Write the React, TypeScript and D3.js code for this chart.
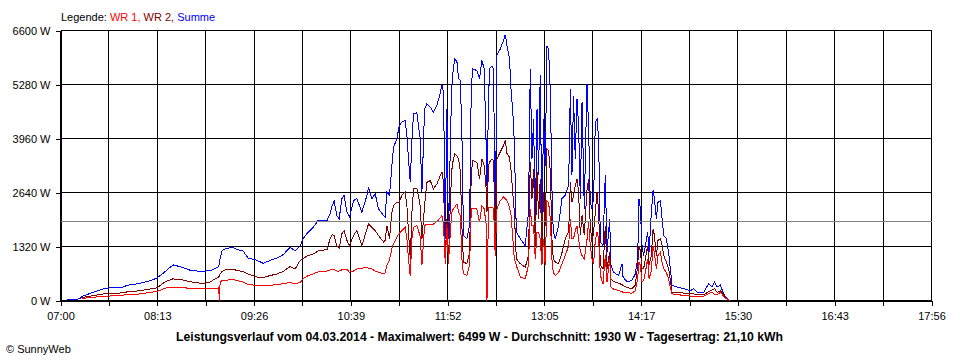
import React, { useRef, useEffect } from 'react';
import * as d3 from 'd3';

// minutes of day (07:00 = 420)
const times = [
  424.9, 434.7, 436.2, 444.5, 452.0, 457.3, 467.1, 470.1, 479.9, 487.4,
  492.7, 497.2, 500.3, 504.8, 508.5, 512.3, 517.6, 522.9, 528.9, 532.7,
  536.4, 539.1, 539.7, 540.2, 541.7, 545.5, 550.0, 553.8, 557.5, 561.3,
  568.1, 572.6, 577.9, 583.2, 587.7, 592.9, 596.7, 600.5, 602.7, 606.5,
  610.3, 614.1, 620.8, 623.1, 624.6, 626.1, 628.1, 629.9, 631.9, 633.6,
  635.7, 637.6, 640.7, 643.2, 647.0, 650.8, 652.0, 654.5, 657.0, 659.5,
  663.3, 664.5, 665.8, 667.8, 669.6, 670.8, 673.4, 675.1, 677.1, 679.6,
  680.9, 682.1, 683.4, 684.7, 685.9, 688.4, 689.6, 690.9, 692.2, 694.2,
  696.0, 698.5, 700.9, 703.5, 705.5, 707.3, 708.5, 709.8, 711.0, 712.2,
  713.9, 715.0, 716.9, 718.6, 719.8, 721.1, 722.3, 723.5, 726.1, 728.1,
  729.4, 730.6, 733.6, 735.6, 737.4, 739.1, 740.7, 741.2, 742.4, 743.1,
  745.0, 746.2, 747.4, 748.7, 751.2, 753.7, 755.0, 756.3, 758.2, 759.3,
  760.8, 761.8, 763.3, 766.3, 770.0, 772.5, 773.8, 775.1, 776.3, 777.6,
  778.9, 780.1, 781.3, 782.6, 783.8, 785.1, 786.4, 787.6, 788.9, 790.2,
  791.1, 792.7, 795.1, 797.7, 800.2, 802.7, 804.0, 805.2, 806.4, 807.7,
  809.0, 810.2, 811.5, 812.8, 814.5, 816.5, 817.7, 819.0, 820.3, 821.5,
  822.8, 824.1, 825.3, 826.6, 828.6, 830.3, 831.6, 833.6, 834.6, 836.6,
  840.4, 842.9, 843.7, 846.7, 850.4, 852.9, 854.7, 855.7, 856.7, 858.0,
  859.2, 860.5, 862.2, 863.3, 865.0, 866.3, 867.3, 868.8, 870.0, 871.8,
  873.1, 874.3, 876.3, 878.0, 879.3, 880.6, 884.4, 889.3, 894.4, 896.9,
  899.4, 904.4, 908.2, 910.7, 912.7, 914.5, 917.0, 919.0, 920.8, 923.2, 924.5
];

const summe = [
  20, 40, 100, 200, 280, 310, 330, 370, 420, 480,
  550, 660, 750, 870, 840, 800, 740, 720, 720, 730,
  780, 830, 930, 1030, 1220, 1280, 1290, 1240, 1210, 1040,
  980, 910, 980, 1040, 1120, 1300, 1210, 1340, 1510, 1670,
  1790, 1960, 1960, 2120, 2320, 2430, 2080, 2000, 2490, 2570,
  2160, 2040, 2440, 2490, 2160, 2570, 2770, 2490, 2610, 2240,
  2080, 2040, 2650, 2570, 3300, 3750, 3950, 4280, 4360, 4400,
  4030, 3460, 2890, 3950, 4560, 4590, 4280, 3960, 2650, 4690,
  4810, 4730, 4600, 4770, 5010, 5260, 5090, 1510, 4690, 1510,
  4280, 5420, 5910, 5830, 5420, 5380, 4110, 1590, 1510, 1830,
  5260, 5660, 5620, 5420, 5870, 5660, 3670, 2810, 4890, 5660,
  5740, 5660, 1510, 5990, 6150, 6360, 6499, 6230, 5910, 5170,
  4520, 3870, 1670, 1510, 1340, 2160, 5660, 3460, 4440, 1830,
  4690, 3060, 5500, 1830, 4440, 3300, 6230, 6150, 5090, 2650,
  1710, 1510, 1830, 2490, 2570, 2810, 5170, 3060, 5010, 3460,
  4930, 4280, 2490, 4850, 2240, 5300, 4280, 2400, 2240, 2490,
  4360, 4440, 3950, 1430, 1340, 3060, 1180, 2000, 860, 690,
  610, 900, 570, 460, 490, 650, 1020, 2490, 2240, 1340,
  1100, 1340, 1670, 1180, 2160, 2690, 2490, 2000, 2400, 2440,
  2000, 1590, 1510, 1180, 770, 370, 330, 290, 240, 290,
  200, 200, 410, 330, 450, 330, 380, 200, 80, 20, 0
];

const wr2 = [
  null, null, 70, 120, 160, 160, 190, 210, 240, 280,
  310, 420, 480, 530, 510, 500, 460, 430, 420, 450,
  530, 570, 610, 650, 710, 770, 760, 730, 710, 650,
  570, 560, 610, 650, 710, 830, 770, 980, 1030, 1100,
  1140, 1210, 1250, 1520, 1610, 1590, 1340, 1280, 1630, 1710,
  1470, 1340, 1590, 1710, 1340, 1750, 1870, 1790, 1710, 1590,
  1430, 1470, 1830, 1510, 2160, 2320, 2400, 2400, 2570, 2650,
  2320, 1670, 1020, 2160, 2730, 2730, 2570, 2320, 1510, 2320,
  2890, 2930, 2730, 2850, 3010, 3140, 2890, 1020, 2000, 940,
  2650, 3300, 3590, 3540, 3460, 3180, 1830, 940, 900, 1180,
  3140, 3420, 3380, 2970, 3460, 3300, 2690, 2160, 3300, 3380,
  3460, 3420, 1340, 3460, 3630, 3790, 3910, 3590, 3500, 3180,
  2570, 2160, 1020, 900, 810, 1100, 3380, 2490, 3220, 1340,
  3140, 2000, 2970, 1180, 2650, 1830, 3710, 3670, 3140, 1470,
  1020, 940, 900, 1170, 1510, 1670, 2890, 2400, 2570, 2810,
  2970, 2650, 1590, 2080, 1590, 2690, 2980, 1830, 1430, 1670,
  2160, 2650, 2160, 860, 770, 1830, 770, 1180, 530, 460,
  420, 390, 370, 320, 290, 370, 860, 1340, 1220, 770,
  780, 1020, 1340, 860, 1100, 1750, 1590, 1100, 1470, 1510,
  1340, 1100, 940, 780, 490, 200, 200, 180, 160, 160,
  150, 140, 220, 260, 290, 200, 240, 160, 60, 20, 0
];

const wr1 = [
  null, null, 50, 80, 100, 110, 130, 150, 160, 200,
  220, 280, 320, 330, 330, 320, 290, 290, 290, 290,
  290, 310, 0, 440, 490, 500, 510, 480, 450, 390,
  370, 370, 370, 390, 410, 440, 410, 440, 530, 610,
  650, 700, 720, 750, 770, 760, 720, 720, 750, 770,
  760, 690, 720, 770, 790, 810, 790, 770, 720, 690,
  650, 680, 860, 1000, 1270, 1390, 1550, 1640, 1710, 1790,
  1510, 1020, 610, 1510, 1790, 1830, 1710, 1560, 860, 1830,
  1870, 1870, 1870, 1930, 2000, 2080, 1830, 900, 1870, 900,
  1830, 2200, 2280, 2360, 2160, 2080, 1020, 650, 610, 860,
  2240, 2240, 2240, 1910, 2320, 2240, 1830, 0, 2280, 2280,
  2280, 2240, 1100, 2240, 2440, 2530, 2490, 2440, 2280, 2080,
  1470, 1020, 860, 570, 530, 860, 2240, 1830, 1830, 1020,
  1670, 1670, 1510, 860, 1510, 860, 2440, 2400, 2000, 980,
  690, 610, 680, 900, 1100, 1340, 2000, 1510, 1510, 1710,
  1830, 1510, 1220, 1100, 1020, 1470, 1910, 1340, 1020, 900,
  1470, 1670, 1510, 610, 410, 1100, 450, 1020, 330, 280,
  240, 220, 200, 190, 180, 240, 530, 940, 860, 450,
  490, 690, 1020, 530, 730, 1340, 1170, 770, 1100, 1180,
  940, 780, 680, 530, 320, 160, 150, 120, 110, 110,
  110, 100, 170, 200, 150, 140, 200, 120, 50, 20, 0
];

const yTicks = [0, 1320, 2640, 3960, 5280, 6600];
const xLabels = ["07:00", "08:13", "09:26", "10:39", "11:52", "13:05", "14:17", "15:30", "16:43", "17:56"];
const average = 1930;
const title = "Leistungsverlauf vom 04.03.2014 - Maximalwert: 6499 W - Durchschnitt: 1930 W - Tagesertrag: 21,10 kWh";

const FONT = "'Liberation Sans', Arial, sans-serif";

export default function App() {
    const svgRef = useRef(null);

    useEffect(() => {
        const svg = d3.select(svgRef.current);
        svg.selectAll("*").remove();

        const x = d3.scaleLinear().domain([420, 1076]).range([60.5, 931.5]);
        const y = d3.scaleLinear().domain([0, 6600]).range([300.5, 30.5]);
        const gridTimes = d3.range(19).map(i => 420 + i * 656 / 18);

        // grid
        svg.append("g")
            .selectAll("line.v")
            .data(gridTimes)
            .join("line")
            .attr("x1", d => Math.round(x(d) - 0.5) + 0.5)
            .attr("x2", d => Math.round(x(d) - 0.5) + 0.5)
            .attr("y1", y(6600))
            .attr("y2", y(0))
            .attr("stroke", "#000")
            .attr("shape-rendering", "crispEdges");

        svg.append("g")
            .selectAll("line.h")
            .data(yTicks)
            .join("line")
            .attr("x1", x(420))
            .attr("x2", x(1076))
            .attr("y1", d => y(d))
            .attr("y2", d => y(d))
            .attr("stroke", "#000")
            .attr("shape-rendering", "crispEdges");

        // axes
        const yAxis = d3.axisLeft(y)
            .tickValues(yTicks)
            .tickSize(5)
            .tickSizeOuter(0)
            .tickPadding(5)
            .tickFormat(d => d + " W");
        const gy = svg.append("g").attr("transform", "translate(60.5,0)").call(yAxis);

        const xAxis = d3.axisBottom(x)
            .tickValues(gridTimes)
            .tickSize(5)
            .tickSizeOuter(0)
            .tickPadding(7)
            .tickFormat((d, i) => (i % 2 === 0 ? xLabels[i / 2] : ""));
        const gx = svg.append("g").attr("transform", "translate(0,300.5)").call(xAxis);

        [gx, gy].forEach(g => {
            g.attr("font-family", FONT).attr("font-size", 11);
            g.selectAll("line").attr("stroke", "#000").attr("shape-rendering", "crispEdges");
            g.selectAll("text").attr("fill", "#000");
            g.select(".domain").attr("stroke", "#000").attr("shape-rendering", "crispEdges");
        });

        // series
        const line = d3.line()
            .defined(d => d[1] != null)
            .x(d => x(d[0]))
            .y(d => y(d[1]));

        const series = [
            { values: summe, color: "#0000ff" },
            { values: wr2, color: "#800000" },
            { values: wr1, color: "#ff0000" }
        ];

        svg.append("g")
            .selectAll("path")
            .data(series)
            .join("path")
            .attr("d", s => line(times.map((t, i) => [t, s.values[i]])))
            .attr("fill", "none")
            .attr("stroke", s => s.color)
            .attr("stroke-width", 1)
            .attr("shape-rendering", "crispEdges");

        // average line
        svg.append("line")
            .attr("x1", x(420))
            .attr("x2", x(1076))
            .attr("y1", Math.round(y(average) - 0.5) + 0.5)
            .attr("y2", Math.round(y(average) - 0.5) + 0.5)
            .attr("stroke", "#808080")
            .attr("shape-rendering", "crispEdges");

        // legend
        const legend = svg.append("text")
            .attr("x", 61)
            .attr("y", 21)
            .attr("font-family", FONT)
            .attr("font-size", 11);
        legend.append("tspan").attr("fill", "#000").text("Legende: ");
        legend.append("tspan").attr("fill", "#ff0000").text("WR 1, ");
        legend.append("tspan").attr("fill", "#800000").text("WR 2, ");
        legend.append("tspan").attr("fill", "#0000ff").text("Summe");

        // title
        svg.append("text")
            .attr("x", 176)
            .attr("y", 340.5)
            .attr("font-family", FONT)
            .attr("font-size", 12)
            .attr("font-weight", "bold")
            .attr("textLength", 607)
            .attr("lengthAdjust", "spacingAndGlyphs")
            .text(title);

        svg.append("text")
            .attr("x", 6)
            .attr("y", 353)
            .attr("font-family", FONT)
            .attr("font-size", 11)
            .text("\u00a9 SunnyWeb");
    }, []);

    return (
        <svg
            ref={svgRef}
            width={960}
            height={360}
            style={{ position: 'absolute', left: 0, top: 0, background: '#fff' }}
        />
    );
}
